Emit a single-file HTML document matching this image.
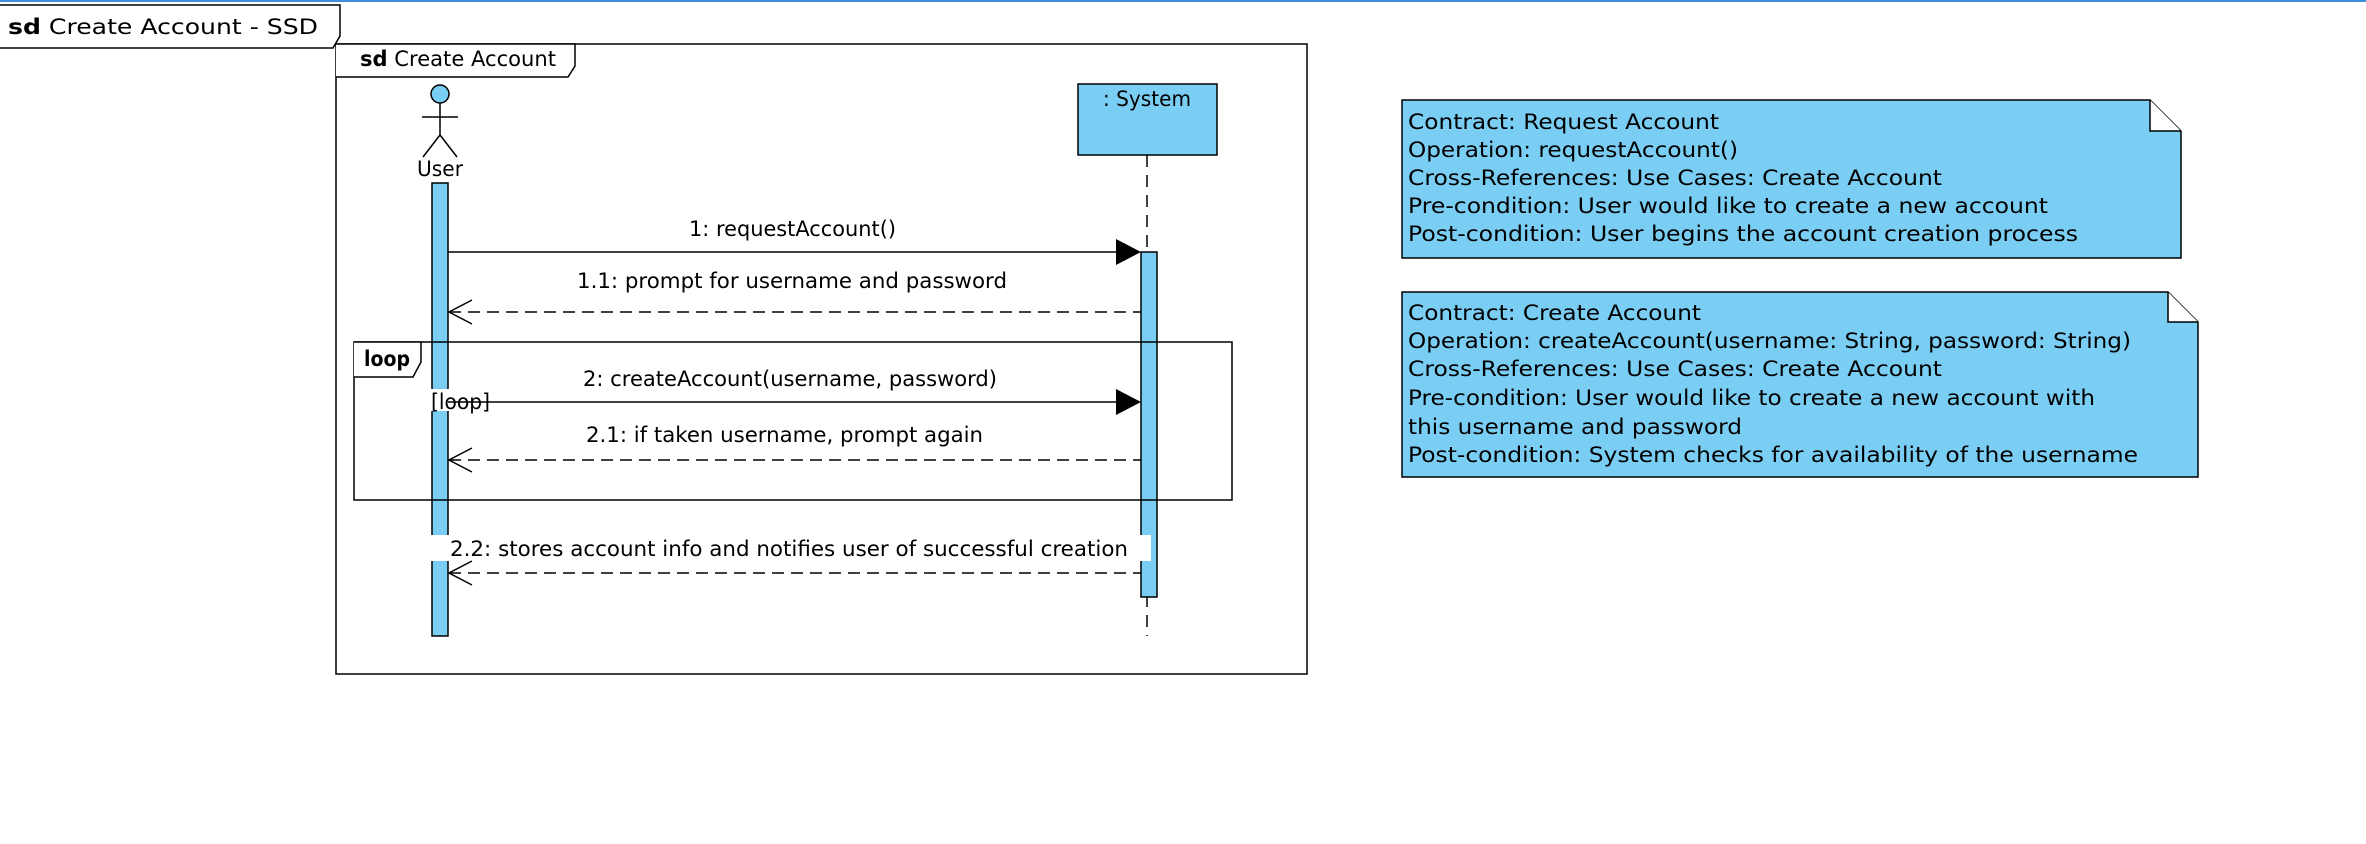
<!DOCTYPE html>
<html><head><meta charset="utf-8"><style>
html,body{margin:0;padding:0;background:#fff;}
svg{display:block;font-family:"DejaVu Sans","Liberation Sans",sans-serif;}
text{font-size:21px;fill:#000;}
</style></head><body>
<svg width="2366" height="844" viewBox="0 0 2366 844" xmlns="http://www.w3.org/2000/svg">
<rect x="0" y="0" width="2366" height="2" fill="#3c8fd6"/>
<!-- title tab -->
<path d="M0 5 H340 V36 L333 48 H0" fill="#fff" stroke="#000" stroke-width="1.5"/>
<text x="8" y="34" textLength="310" lengthAdjust="spacingAndGlyphs" font-size="22"><tspan font-weight="bold">sd</tspan> Create Account - SSD</text>
<!-- outer frame -->
<rect x="336" y="44" width="971" height="630" fill="none" stroke="#000" stroke-width="1.5"/>
<path d="M336 44 H575 V66 L568 77 H336" fill="#fff" stroke="#000" stroke-width="1.5"/>
<text x="360" y="66" textLength="196" lengthAdjust="spacingAndGlyphs"><tspan font-weight="bold">sd</tspan> Create Account</text>
<!-- actor -->
<circle cx="440" cy="94" r="9" fill="#7ACEF4" stroke="#000" stroke-width="1.5"/>
<line x1="440" y1="103" x2="440" y2="135" stroke="#000" stroke-width="1.5"/>
<line x1="422" y1="117" x2="458" y2="117" stroke="#000" stroke-width="1.5"/>
<line x1="440" y1="135" x2="423" y2="157" stroke="#000" stroke-width="1.5"/>
<line x1="440" y1="135" x2="457" y2="157" stroke="#000" stroke-width="1.5"/>
<text x="417" y="176" textLength="46" lengthAdjust="spacingAndGlyphs">User</text>
<rect x="432" y="183" width="16" height="453" fill="#7ACEF4" stroke="#000" stroke-width="1.5"/>
<!-- system -->
<rect x="1078" y="84" width="139" height="71" fill="#7ACEF4" stroke="#000" stroke-width="1.5"/>
<text x="1103" y="106" textLength="88" lengthAdjust="spacingAndGlyphs">: System</text>
<line x1="1147" y1="155" x2="1147" y2="636" stroke="#000" stroke-width="1.5" stroke-dasharray="12,8"/>
<rect x="1141" y="252" width="16" height="345" fill="#7ACEF4" stroke="#000" stroke-width="1.5"/>
<!-- loop frame -->
<rect x="354" y="342" width="878" height="158" fill="none" stroke="#000" stroke-width="1.5"/>
<path d="M354 342 H421 V362 L413 377 H354" fill="#fff" stroke="#000" stroke-width="1.5"/>
<text x="364" y="366" font-weight="bold" textLength="46" lengthAdjust="spacingAndGlyphs">loop</text>
<!-- msg1 -->
<text x="689" y="236" textLength="207" lengthAdjust="spacingAndGlyphs">1: requestAccount()</text>
<line x1="448" y1="252" x2="1120" y2="252" stroke="#000" stroke-width="1.5"/>
<polygon points="1116,239 1141,252 1116,265" fill="#000"/>
<!-- msg1.1 -->
<text x="577" y="288" textLength="430" lengthAdjust="spacingAndGlyphs">1.1: prompt for username and password</text>
<line x1="449" y1="312" x2="1141" y2="312" stroke="#000" stroke-width="1.5" stroke-dasharray="12,7"/>
<polyline points="472,300 449,312 472,324" fill="none" stroke="#000" stroke-width="1.5"/>
<!-- msg2 -->
<text x="583" y="386" textLength="414" lengthAdjust="spacingAndGlyphs">2: createAccount(username, password)</text>
<rect x="431" y="389" width="59" height="22" fill="#fff"/>
<line x1="448" y1="402" x2="1120" y2="402" stroke="#000" stroke-width="1.5"/>
<text x="431" y="409" textLength="59" lengthAdjust="spacingAndGlyphs">[loop]</text>
<polygon points="1116,389 1141,402 1116,415" fill="#000"/>
<!-- msg2.1 -->
<text x="586" y="442" textLength="397" lengthAdjust="spacingAndGlyphs">2.1: if taken username, prompt again</text>
<line x1="449" y1="460" x2="1141" y2="460" stroke="#000" stroke-width="1.5" stroke-dasharray="12,7"/>
<polyline points="472,448 449,460 472,472" fill="none" stroke="#000" stroke-width="1.5"/>
<!-- msg2.2 -->
<rect x="431" y="535" width="720" height="26" fill="#fff"/>
<text x="450" y="556" textLength="678" lengthAdjust="spacingAndGlyphs">2.2: stores account info and notifies user of successful creation</text>
<line x1="449" y1="573" x2="1141" y2="573" stroke="#000" stroke-width="1.5" stroke-dasharray="12,7"/>
<polyline points="472,561 449,573 472,585" fill="none" stroke="#000" stroke-width="1.5"/>
<!-- note 1 -->
<path d="M1402 100 H2150 L2181 131 V258 H1402 Z" fill="#7ACEF4" stroke="#000" stroke-width="1.5"/>
<path d="M2150 100 V131 H2181" fill="#fff" stroke="#000" stroke-width="1.5"/>
<g font-size="21">
<text x="1408" y="129" textLength="311" lengthAdjust="spacingAndGlyphs">Contract: Request Account</text>
<text x="1408" y="157" textLength="330" lengthAdjust="spacingAndGlyphs">Operation: requestAccount()</text>
<text x="1408" y="185" textLength="534" lengthAdjust="spacingAndGlyphs">Cross-References: Use Cases: Create Account</text>
<text x="1408" y="213" textLength="640" lengthAdjust="spacingAndGlyphs">Pre-condition: User would like to create a new account</text>
<text x="1408" y="241" textLength="670" lengthAdjust="spacingAndGlyphs">Post-condition: User begins the account creation process</text>
</g>
<!-- note 2 -->
<path d="M1402 292 H2168 L2198 322 V477 H1402 Z" fill="#7ACEF4" stroke="#000" stroke-width="1.5"/>
<path d="M2168 292 V322 H2198" fill="#fff" stroke="#000" stroke-width="1.5"/>
<g font-size="21">
<text x="1408" y="320" textLength="293" lengthAdjust="spacingAndGlyphs">Contract: Create Account</text>
<text x="1408" y="348" textLength="723" lengthAdjust="spacingAndGlyphs">Operation: createAccount(username: String, password: String)</text>
<text x="1408" y="376" textLength="534" lengthAdjust="spacingAndGlyphs">Cross-References: Use Cases: Create Account</text>
<text x="1408" y="405" textLength="687" lengthAdjust="spacingAndGlyphs">Pre-condition: User would like to create a new account with</text>
<text x="1408" y="434" textLength="334" lengthAdjust="spacingAndGlyphs">this username and password</text>
<text x="1408" y="462" textLength="730" lengthAdjust="spacingAndGlyphs">Post-condition: System checks for availability of the username</text>
</g>
</svg>
</body></html>
